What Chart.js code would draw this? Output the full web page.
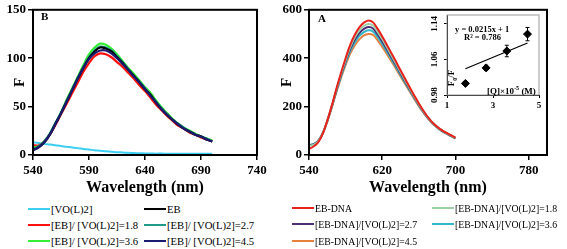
<!DOCTYPE html>
<html>
<head>
<meta charset="utf-8">
<script src="https://cdn.jsdelivr.net/npm/chart.js@4.4.0/dist/chart.umd.min.js"></script>
<style>
body { margin:0; background:#fff; width:567px; height:249px; position:relative; overflow:hidden; font-family:'Liberation Serif', 'Times New Roman', serif; }
.box { position:absolute; }
.lg { position:absolute; font-size:11px; white-space:nowrap; line-height:12px; color:#000; }
.lg i { display:inline-block; width:22px; height:2px; vertical-align:middle; margin-right:1px; position:relative; top:-1px; }
.lg span { display:inline-block; transform-origin:left center; }
.txt { position:absolute; font-weight:bold; white-space:nowrap; color:#000; }
</style>
</head>
<body>
<div class="box" style="left:0px;top:0px"><canvas id="chartB" width="280" height="200"></canvas></div>
<div class="box" style="left:270px;top:0px"><canvas id="chartA" width="297" height="200"></canvas></div>
<div class="box" style="left:420px;top:5px"><canvas id="inset" width="125" height="115"></canvas></div>

<div class="txt" style="left:41px;top:10px;font-size:11px">B</div>
<div class="txt" style="left:318px;top:12px;font-size:11px">A</div>
<div class="txt" style="left:455px;top:24px;font-size:8.5px">y = 0.0215x + 1</div>
<div class="txt" style="left:464px;top:32px;font-size:8.5px">R² = 0.786</div>
<div class="txt" style="left:444px;top:72px;font-size:9px;transform:rotate(-90deg);transform-origin:center">F<sub style="font-size:6px">0</sub>/F</div>
<div class="txt" style="left:487px;top:85px;font-size:9px">[Q]×10<sup style="font-size:6px">-5</sup> (M)</div>

<script>
// longitudes de onda (nm)
var wavelengths = [540,545,550,555,560,565,570,575,580,585,590,595,600,605,610,615,620,625,630,635,640,645,650,655,660,665,670,675,680,685,690,695,700];

// Panel B
var vo = [13,12.4,11.5,10.9,10.1,9.2,8.6,7.7,7.1,6.2,5.7,4.9,4.4,3.8,3.4,2.9,2.6,2.2,2,1.8,1.6,1.5,1.4,1.5,1.3,1.4,1.3,1.3,1.4,1.3,1.3,1.2,1.3];
var eb = [5,8,13,21,32,43,55,67,79,90,100,107,111,110,107,101,95,88,82,75,68,62,54,47,41,36,31,27,24,21,19,16,14];
var eb18 = [10,10,14,21,31,42,53,64,75,86,95,102,105,104,101,96,91,85,79,72,66,59,52,46,40,35,30,27,23,21,18,16,14];
var eb27 = [6,9,14,22,33,44,56,68,80,91,101,108,112,111,108,102,96,89,82,76,69,62,55,48,42,36,32,28,24,21,19,17,14];
var eb36 = [8,9,14,22,33,44,57,69,81,93,104,111,115,114,110,104,97,90,84,77,70,64,56,49,43,37,32,28,25,22,19,17,15];
var eb45 = [5,8,13,21,32,43,55,67,79,90,99,105,108,108,105,100,94,88,81,75,68,61,54,47,41,36,31,27,24,21,19,16,14];
var ticksBx = [540,590,640,690,740];
var ticksBy = [0,50,100,150];

// Panel A
var ebdna = [25,35,52,88,142,205,275,340,400,455,497,527,547,556,548,521,490,456,421,386,350,315,280,246,213,183,156,134,117,103,92,82,72];
var dna18 = [38,42,56,90,142,204,272,335,393,446,486,515,533,541,535,509,479,446,412,378,343,309,275,242,210,181,155,134,117,103,91,81,71];
var dna27 = [40,44,57,90,141,202,269,330,387,438,476,504,521,529,523,498,469,437,404,371,337,304,271,239,208,179,154,133,116,102,90,80,70];
var dna36 = [42,45,58,90,140,200,265,325,380,429,465,492,508,515,510,487,459,428,396,364,331,299,267,236,205,177,152,131,114,100,89,79,69];
var dna45 = [40,44,57,89,138,197,261,319,372,419,453,478,494,500,496,474,447,418,387,356,324,293,262,232,202,175,150,129,113,99,88,78,68];
var ticksAx = [540,620,700,780];
var ticksAy = [0,200,400,600];

// Inset
var ratioX = [1.8,2.7,3.6,4.5];
var ratioY = [1.006,1.041,1.079,1.117];
var ratioErr = [0.004,0.006,0.013,0.015];
var trendX = [1.8,4.5];
var trendY = [1.039,1.097];
var insetTicksX = [1,3,5];
var insetTicksY = [0.98,1.06,1.14];

var serif = "'Liberation Serif', 'Times New Roman', serif";

function pts(vals) {
  return vals.map(function(v, i) { return {x: wavelengths[i], y: v}; });
}

// marco negro alrededor del area del grafico
var framePlugin = {
  id: 'frame',
  afterDraw: function(chart, args, opts) {
    var a = chart.chartArea, c = chart.ctx;
    c.save();
    c.strokeStyle = opts.color;
    c.lineWidth = opts.width;
    c.strokeRect(a.left, a.top, a.right - a.left, a.bottom - a.top);
    c.restore();
  }
};

// barras de error del inset
var errorPlugin = {
  id: 'errbars',
  afterDatasetsDraw: function(chart) {
    var ds = chart.data.datasets[0];
    if (!ds.errors) return;
    var c = chart.ctx, xs = chart.scales.x, ys = chart.scales.y;
    c.save();
    c.strokeStyle = '#000';
    c.lineWidth = 1;
    ds.data.forEach(function(p, i) {
      var px = xs.getPixelForValue(p.x);
      var y1 = ys.getPixelForValue(p.y + ds.errors[i]);
      var y2 = ys.getPixelForValue(p.y - ds.errors[i]);
      c.beginPath();
      c.moveTo(px, y1); c.lineTo(px, y2);
      c.moveTo(px - 2, y1); c.lineTo(px + 2, y1);
      c.moveTo(px - 2, y2); c.lineTo(px + 2, y2);
      c.stroke();
    });
    c.restore();
  }
};

// etiquetas del eje y del inset, giradas
var rotatedYLabels = {
  id: 'rotY',
  afterDraw: function(chart, args, opts) {
    if (!opts.ticks) return;
    var c = chart.ctx, ys = chart.scales.y;
    c.save();
    c.font = 'bold 9px ' + serif;
    c.fillStyle = '#000';
    c.textAlign = 'center';
    c.textBaseline = 'middle';
    opts.ticks.forEach(function(v) {
      c.save();
      c.translate(ys.right - 12, ys.getPixelForValue(v));
      c.rotate(-Math.PI / 2);
      c.fillText(v.toFixed(2), 0, 0);
      c.restore();
    });
    c.restore();
  }
};

function line(data, color, w) {
  return {data: pts(data), borderColor: color, backgroundColor: color, borderWidth: w || 2.2,
          pointRadius: 0, tension: 0.35, fill: false};
}

function mainScales(xmin, xmax, xt, yt, yWidth, titlePad) {
  return {
    x: {
      type: 'linear', min: xmin, max: xmax,
      afterBuildTicks: function(s) { s.ticks = xt.map(function(v) { return {value: v}; }); },
      afterFit: function(s) { s.height = 45; },
      grid: {display: true, drawOnChartArea: false, drawTicks: true, tickLength: 5, color: '#000', lineWidth: 1.5},
      border: {display: true, color: '#000', width: 2},
      ticks: {color: '#000', padding: 3, maxRotation: 0, font: {family: serif, size: 13, weight: 'bold'}},
      title: {display: true, text: 'Wavelength (nm)', color: '#000', padding: {top: 0, bottom: 3},
              font: {family: serif, size: 16, weight: 'bold'}}
    },
    y: {
      type: 'linear', min: yt[0], max: yt[yt.length - 1],
      afterBuildTicks: function(s) { s.ticks = yt.map(function(v) { return {value: v}; }); },
      afterFit: function(s) { s.width = yWidth; },
      grid: {display: true, drawOnChartArea: false, drawTicks: true, tickLength: 5, color: '#000', lineWidth: 1.5},
      border: {display: true, color: '#000', width: 2},
      ticks: {color: '#000', padding: 2, font: {family: serif, size: 13, weight: 'bold'}},
      title: {display: true, text: 'F', color: '#000', padding: {top: titlePad, bottom: 0},
              font: {family: serif, size: 15, weight: 'bold'}}
    }
  };
}

var seriesB = [
  {name: '[VO(L)2]', data: vo, color: '#3ccff2', w: 2},
  {name: 'EB', data: eb, color: '#000000'},
  {name: '[EB]/ [VO(L)2]=1.8', data: eb18, color: '#ff1010'},
  {name: '[EB]/ [VO(L)2]=2.7', data: eb27, color: '#1f9a88'},
  {name: '[EB]/ [VO(L)2]=3.6', data: eb36, color: '#33ee33'},
  {name: '[EB]/ [VO(L)2]=4.5', data: eb45, color: '#1a1a6e'}
];
var seriesA = [
  {name: 'EB-DNA', data: ebdna, color: '#e8221b'},
  {name: '[EB-DNA]/[VO(L)2]=1.8', data: dna18, color: '#9ccfa6'},
  {name: '[EB-DNA]/[VO(L)2]=2.7', data: dna27, color: '#4a2f78'},
  {name: '[EB-DNA]/[VO(L)2]=3.6', data: dna36, color: '#33b8c6'},
  {name: '[EB-DNA]/[VO(L)2]=4.5', data: dna45, color: '#e6803c'}
];

// orden de dibujo: el primero queda encima
var orderB = [5, 1, 3, 4, 2, 0];
var orderA = [0, 1, 2, 3, 4];

new Chart(document.getElementById('chartB'), {
  type: 'line',
  data: {datasets: orderB.map(function(i) { var s = seriesB[i]; return line(s.data, s.color, s.w); })},
  options: {
    responsive: false, animation: false, devicePixelRatio: 1,
    layout: {padding: {top: 6, right: 23, left: 0, bottom: 0}},
    plugins: {legend: {display: false}, tooltip: {enabled: false}, frame: {color: '#000', width: 2}},
    scales: mainScales(540, 740, ticksBx, ticksBy, 33, 11)
  },
  plugins: [framePlugin]
});

new Chart(document.getElementById('chartA'), {
  type: 'line',
  data: {datasets: orderA.map(function(i) { var s = seriesA[i]; return line(s.data, s.color, 2); })},
  options: {
    responsive: false, animation: false, devicePixelRatio: 1,
    layout: {padding: {top: 8, right: 20, left: 0, bottom: 0}},
    plugins: {legend: {display: false}, tooltip: {enabled: false}, frame: {color: '#000', width: 2}},
    scales: mainScales(540, 800, ticksAx, ticksAy, 39, 8)
  },
  plugins: [framePlugin]
});

new Chart(document.getElementById('inset'), {
  type: 'scatter',
  data: {datasets: [
    {data: ratioX.map(function(x, i) { return {x: x, y: ratioY[i]}; }), errors: ratioErr,
     pointStyle: 'rectRot', pointRadius: 4, backgroundColor: '#000', borderColor: '#000', showLine: false},
    {data: trendX.map(function(x, i) { return {x: x, y: trendY[i]}; }), showLine: true,
     borderColor: '#000', borderWidth: 1.2, pointRadius: 0}
  ]},
  options: {
    responsive: false, animation: false, devicePixelRatio: 1,
    layout: {padding: {top: 10, right: 6, left: 0, bottom: 0}},
    plugins: {legend: {display: false}, tooltip: {enabled: false},
              frame: {color: '#999', width: 1}, rotY: {ticks: insetTicksY}},
    scales: {
      x: {type: 'linear', min: 1, max: 5,
          afterBuildTicks: function(s) { s.ticks = insetTicksX.map(function(v) { return {value: v}; }); },
          afterFit: function(s) { s.height = 25; },
          grid: {display: true, drawOnChartArea: false, tickLength: 3, color: '#000'},
          border: {display: true, color: '#000', width: 1},
          ticks: {color: '#000', padding: 2, maxRotation: 0, font: {family: serif, size: 9, weight: 'bold'}}},
      y: {type: 'linear', min: 0.98, max: 1.16,
          afterBuildTicks: function(s) { s.ticks = insetTicksY.map(function(v) { return {value: v}; }); },
          afterFit: function(s) { s.width = 27; },
          grid: {display: true, drawOnChartArea: false, tickLength: 3, color: '#000'},
          border: {display: true, color: '#000', width: 1},
          ticks: {display: false}}
    }
  },
  plugins: [framePlugin, errorPlugin, rotatedYLabels]
});

// leyendas
var legendB = [[28, 209, 0], [144, 209, 1], [28, 225, 2], [144, 225, 3], [28, 241, 4], [144, 241, 5]];
var legendA = [[292, 208, 0], [432, 208, 1], [292, 224, 2], [432, 224, 3], [292, 241, 4]];
function addLegend(list, series, squeeze) {
  list.forEach(function(p) {
    var s = series[p[2]];
    var d = document.createElement('div');
    d.className = 'lg';
    d.style.left = p[0] + 'px';
    d.style.top = (p[1] - 6) + 'px';
    d.innerHTML = '<i style="background:' + s.color + '"></i><span style="transform:scaleX(' + squeeze + ')">' + s.name + '</span>';
    document.body.appendChild(d);
  });
}
addLegend(legendB, seriesB, 0.97);
addLegend(legendA, seriesA, 0.89);
</script>
</body>
</html>
